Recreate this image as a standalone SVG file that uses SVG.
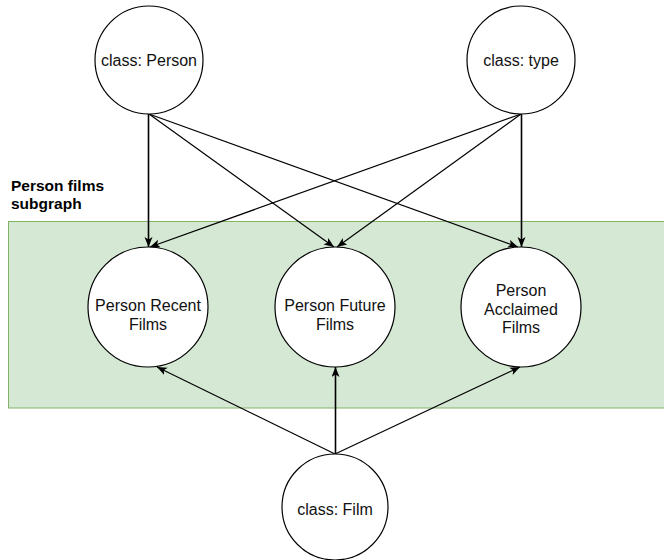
<svg xmlns="http://www.w3.org/2000/svg" width="664" height="560" viewBox="0 0 664 560">
<style>
.node{fill:#ffffff;stroke:#000000;stroke-width:1.2}
.lbl{font-family:"Liberation Sans",Arial,Helvetica,sans-serif;font-size:16px;fill:#111111;text-anchor:middle}
.title{font-family:"Liberation Sans",Arial,Helvetica,sans-serif;font-size:15.5px;font-weight:bold;fill:#000000}
.edge{fill:none;stroke:#000000;stroke-width:1.2;marker-end:url(#arr)}
.vert{stroke-width:1.6}
</style>
<defs>
<marker id="arr" markerUnits="userSpaceOnUse" markerWidth="12" markerHeight="10" refX="10" refY="4" orient="auto">
<path d="M0,0 L10,4 L0,8 L2.5,4 z" fill="#000000"/>
</marker>
</defs>
<g id="subgraph">
<rect x="8.5" y="221.5" width="660" height="186.5" fill="#d5e8d4" stroke="#82b366" stroke-width="1"/>
<text class="title" x="11" y="191">Person films</text>
<text class="title" x="11" y="209">subgraph</text>
</g>
<g id="connectors">
<path class="edge vert" d="M148.5,114 L148.5,247"/>
<path class="edge" d="M149,114 L334,247"/>
<path class="edge" d="M149,114 L518,247"/>
<path class="edge" d="M521,114 L150,247"/>
<path class="edge" d="M521,114 L337,247"/>
<path class="edge vert" d="M521.5,114 L521.5,247"/>
<path class="edge" d="M335,454 L157,367"/>
<path class="edge vert" d="M335.5,454 L335.5,367"/>
<path class="edge" d="M335,454 L520,367"/>
</g>
<g id="person">
<circle class="node" cx="149" cy="60" r="54"/>
<text class="lbl" x="149" y="66">class: Person</text>
</g>
<g id="type">
<circle class="node" cx="521" cy="60" r="54"/>
<text class="lbl" x="521" y="66">class: type</text>
</g>
<g id="recent">
<circle class="node" cx="148" cy="307" r="60"/>
<text class="lbl" x="148" y="311">Person Recent</text>
<text class="lbl" x="148" y="330">Films</text>
</g>
<g id="future">
<circle class="node" cx="335" cy="307" r="60"/>
<text class="lbl" x="335" y="311">Person Future</text>
<text class="lbl" x="335" y="330">Films</text>
</g>
<g id="acclaimed">
<circle class="node" cx="521" cy="307" r="60"/>
<text class="lbl" x="521" y="296">Person</text>
<text class="lbl" x="521" y="314.5">Acclaimed</text>
<text class="lbl" x="521" y="333">Films</text>
</g>
<g id="film">
<circle class="node" cx="335" cy="507" r="53"/>
<text class="lbl" x="335" y="515">class: Film</text>
</g>
</svg>
